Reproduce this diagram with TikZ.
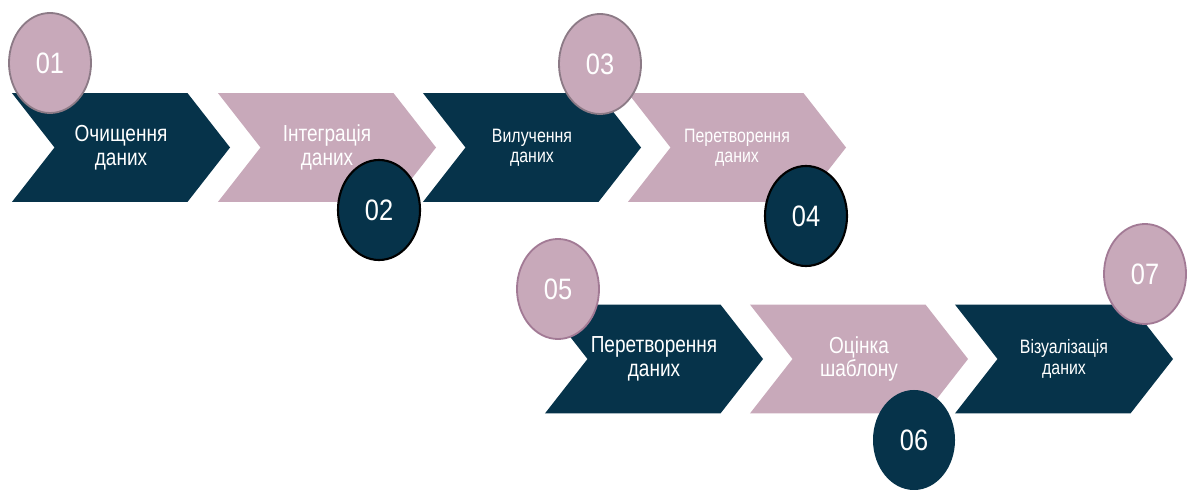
\documentclass[tikz,border=0pt]{standalone}
\usepackage{fontspec}
\setmainfont{Liberation Sans}[FakeStretch=0.82]
\newfontfamily\numfont{Liberation Sans}[FakeStretch=0.86]
\usetikzlibrary{shapes.symbols}
\usetikzlibrary{shapes.geometric}

\definecolor{navy}{HTML}{06334A}
\definecolor{rose}{HTML}{C8A9BA}
\definecolor{greyrim}{HTML}{8C7A86}
\definecolor{mauverim}{HTML}{A27A95}

\begin{document}
\begin{tikzpicture}[
        x=0.025cm, y=-0.025cm,
        chevron/.style={
            signal, signal from=west, signal to=east,
            signal pointer angle=104,
            minimum width=5.45cm, minimum height=2.72cm,
            inner sep=0pt, align=center, text=white,
        },
        darkstep/.style={chevron, fill=navy},
        pinkstep/.style={chevron, fill=rose},
        bigtext/.style={font=\fontsize{16.5}{17}\selectfont},
        smalltext/.style={font=\fontsize{13.8}{14.5}\selectfont},
        numdot/.style={
            ellipse, minimum width=2.05cm, minimum height=2.5cm,
            inner sep=0pt, text=white,
            font=\numfont\fontsize{21}{21}\selectfont,
        },
        pinkdot/.style={numdot, fill=rose, line width=1.3pt},
        darkdot/.style={numdot, fill=navy},
    ]
        \useasboundingbox (0,0) rectangle (1194,490);

        % upper row
        \node (clean) at (121,147.5) [darkstep, bigtext] {Очищення\\даних};
        \node (integr) at (327,147.5) [pinkstep, bigtext] {Інтеграція\\даних};
        \node (extract) at (532,147.5) [darkstep, smalltext] {Вилучення\\даних};
        \node (transf) at (737,147.5) [pinkstep, smalltext] {Перетворення\\даних};

        % lower row
        \node (transfb) at (654,359) [darkstep, bigtext] {Перетворення\\даних};
        \node (assess) at (859,359) [pinkstep, bigtext] {Оцінка\\шаблону};
        \node (visual) at (1064,359) [darkstep, smalltext] {Візуалізація\\даних};

        % numbers
        \node (n1) at (50,63) [pinkdot, draw=greyrim] {01};
        \node (n2) at (379,210) [darkdot, draw=black, line width=1.5pt] {02};
        \node (n3) at (600,64) [pinkdot, draw=greyrim] {03};
        \node (n4) at (806,216) [darkdot, draw=black, line width=1.5pt] {04};
        \node (n5) at (558,289) [pinkdot, draw=mauverim] {05};
        \node (n6) at (914,440) [darkdot] {06};
        \node (n7) at (1145,274) [pinkdot, draw=mauverim] {07};
    \end{tikzpicture}
\end{document}
